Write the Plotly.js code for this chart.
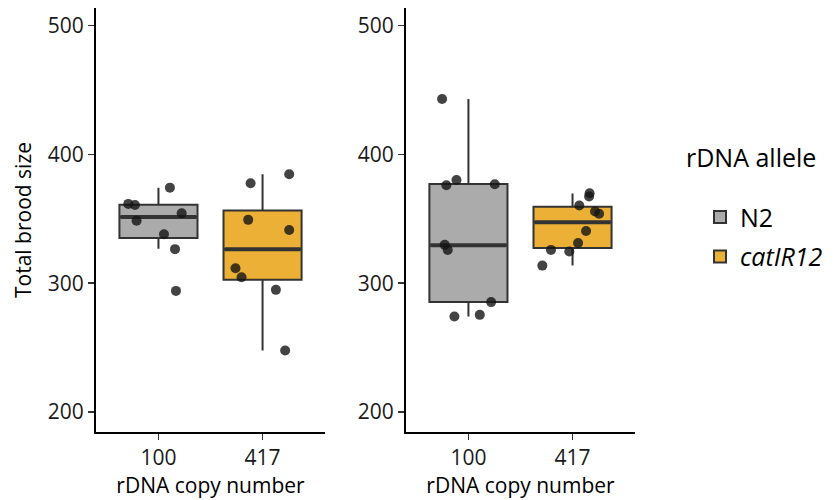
<!DOCTYPE html>
<html>
<head>
<meta charset="utf-8">
<script src="https://cdn.plot.ly/plotly-3.0.1.min.js"></script>
<style>html,body{margin:0;padding:0;background:#fff;}#chart{width:839px;height:500px;}</style>
</head>
<body>
<div id="chart"></div>
<script>
// ---- data ----
const categories = ['100', '417'];          // rDNA copy number
const alleles = ['N2', 'catIR12'];          // rDNA allele
const alleleColors = ['#ABABAB', '#EBB035'];

// Panel A: individual brood sizes and horizontal jitter (category units)
const a_n2_vals = [361.5, 360.7, 348.5, 374.1, 354.3, 338.0, 326.4, 294.0];
const a_n2_jit  = [-0.29, -0.226, -0.21, 0.11, 0.223, 0.053, 0.159, 0.168];
const a_cat_vals = [377.5, 384.5, 349.1, 341.3, 311.6, 304.6, 294.8, 247.8];
const a_cat_jit  = [-0.115, 0.256, -0.138, 0.256, -0.26, -0.202, 0.128, 0.217];

// Panel B
const b_n2_vals = [442.9, 376.0, 380.0, 376.7, 329.7, 325.8, 285.3, 274.1, 275.4];
const b_n2_jit  = [-0.253, -0.212, -0.115, 0.253, -0.228, -0.199, 0.218, -0.135, 0.109];
const b_cat_vals = [369.8, 367.2, 360.2, 355.6, 353.8, 340.5, 331.2, 325.8, 324.5, 313.6];
const b_cat_jit  = [0.164, 0.159, 0.065, 0.216, 0.255, 0.13, 0.053, -0.207, -0.031, -0.29];

// Box statistics per panel: [N2, catIR12]
const a_q1  = [335.0, 302.6];
const a_med = [351.3, 326.4];
const a_q3  = [360.8, 356.3];
const a_lo  = [326.7, 247.8];
const a_hi  = [374.0, 384.5];

const b_q1  = [285.3, 327.2];
const b_med = [329.5, 347.2];
const b_q3  = [377.0, 359.2];
const b_lo  = [274.1, 313.7];
const b_hi  = [442.9, 369.6];

const yTicks = [200, 300, 400, 500];

// ---- build traces ----
const BOXW = 0.75;
const lineCol = '#333333';
const traces = [];

function addPanel(xa, ya, q1, med, q3, lo, hi, pts, showLeg) {
  for (let i = 0; i < 2; i++) {
    const xc = i + 1;
    traces.push({
      type: 'box', xaxis: xa, yaxis: ya,
      x: [xc], q1: [q1[i]], median: [med[i]], q3: [q3[i]],
      lowerfence: [lo[i]], upperfence: [hi[i]],
      width: BOXW, whiskerwidth: 0,
      boxpoints: false,
      fillcolor: alleleColors[i],
      line: {color: lineCol, width: 2},
      name: i === 0 ? alleles[i] : '<i>' + alleles[i] + '</i>',
      legendgroup: alleles[i],
      showlegend: showLeg,
      hoverinfo: 'skip'
    });
    // thicker median bar (ggplot style)
    traces.push({
      type: 'scatter', mode: 'lines', xaxis: xa, yaxis: ya,
      x: [xc - BOXW / 2 + 0.01, xc + BOXW / 2 - 0.01], y: [med[i], med[i]],
      line: {color: lineCol, width: 4},
      showlegend: false, hoverinfo: 'skip'
    });
  }
  for (let i = 0; i < 2; i++) {
    const vals = pts[i][0], jit = pts[i][1];
    traces.push({
      type: 'scatter', mode: 'markers', xaxis: xa, yaxis: ya,
      x: vals.map((v, k) => i + 1 + jit[k]), y: vals,
      marker: {color: 'rgba(20,20,20,0.8)', size: 10, line: {width: 0}},
      showlegend: false, hoverinfo: 'y'
    });
  }
}

addPanel('x', 'y', a_q1, a_med, a_q3, a_lo, a_hi,
  [[a_n2_vals, a_n2_jit], [a_cat_vals, a_cat_jit]], true);
addPanel('x2', 'y2', b_q1, b_med, b_q3, b_lo, b_hi,
  [[b_n2_vals, b_n2_jit], [b_cat_vals, b_cat_jit]], false);

const FONT = '"Open Sans", Lato, sans-serif';
const axisCommon = {
  showline: true, linecolor: '#000', linewidth: 2,
  ticks: 'outside', ticklen: 6, tickwidth: 1.5, tickcolor: '#333',
  showgrid: false, zeroline: false,
  tickfont: {family: FONT, size: 21, color: '#1a1a1a'}
};
const xCommon = Object.assign({}, axisCommon, {
  range: [0.4, 2.6], tickvals: [1, 2], ticktext: categories,
  title: {text: 'rDNA copy number', font: {family: FONT, size: 21, color: '#000'}, standoff: 5}
});
const yCommon = Object.assign({}, axisCommon, {
  range: [184.5, 513.5], tickvals: yTicks
});

const layout = {
  width: 839, height: 500,
  margin: {l: 96, r: 204, t: 8, b: 68},
  paper_bgcolor: '#fff', plot_bgcolor: '#fff',
  font: {family: FONT, size: 18, color: '#000'},
  boxmode: 'overlay',
  xaxis: Object.assign({}, xCommon, {domain: [0, 0.4249], anchor: 'y'}),
  xaxis2: Object.assign({}, xCommon, {domain: [0.5751, 1], anchor: 'y2'}),
  yaxis: Object.assign({}, yCommon, {anchor: 'x',
    title: {text: 'Total brood size', font: {family: FONT, size: 21, color: '#000'}, standoff: 10}}),
  yaxis2: Object.assign({}, yCommon, {anchor: 'x2'}),
  showlegend: true,
  legend: {
    x: 1.1206, xanchor: 'left', y: 0.561, yanchor: 'top',
    font: {family: FONT, size: 25, color: '#000'},
    traceorder: 'grouped', tracegroupgap: 4,
    bgcolor: 'rgba(0,0,0,0)'
  },
  annotations: [{
    text: 'rDNA allele', xref: 'paper', yref: 'paper',
    x: 1.091, y: 0.648, xanchor: 'left', yanchor: 'middle', showarrow: false,
    font: {family: FONT, size: 25, color: '#000'}
  }]
};

Plotly.newPlot('chart', traces, layout, {displayModeBar: false, staticPlot: true});
</script>
</body>
</html>
